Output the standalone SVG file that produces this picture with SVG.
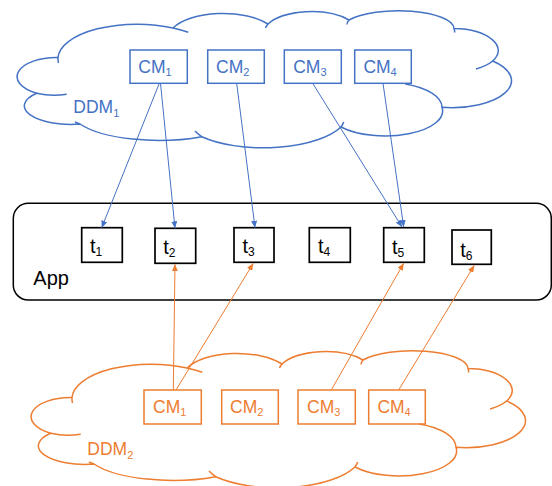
<svg xmlns="http://www.w3.org/2000/svg" width="552" height="486" viewBox="0 0 552 486">
<style>
.cb{fill:none;stroke:#4472C4;stroke-width:1.5}
.co{fill:none;stroke:#ED7D31;stroke-width:1.5}
.tb{fill:none;stroke:#4472C4;stroke-width:1.5}
.to{fill:none;stroke:#ED7D31;stroke-width:1.5}
.lb{fill:#4472C4;font-family:"Liberation Sans",Arial,sans-serif;font-size:17.5px}
.lo{fill:#ED7D31;font-family:"Liberation Sans",Arial,sans-serif;font-size:17.5px}
.tk{fill:#000;font-family:"Liberation Sans",Arial,sans-serif;font-size:20px}
.tbox{fill:#fff;stroke:#000;stroke-width:1.7}
.cnb{stroke:#4472C4;stroke-width:1;fill:none}
.cno{stroke:#ED7D31;stroke-width:1;fill:none}
</style>
<defs>
<path id="cloud" d="M58,57.5 A79,35 0 0 1 173,28 A55,25 0 0 1 268,24 A48,22 0 0 1 349,20 A56,18 0 0 1 454,28.5 A45.8,22 0 0 1 492.7,61 A59.7,27 0 0 1 442,107.3 A57.5,25 0 0 1 341,127 A84.6,35 0 0 1 201.7,136.7 A88.5,30 0 0 1 80,124 A46.5,18.5 0 0 1 36.7,93.3 A39.3,19.2 0 0 1 58,57.5 Z"/>
<path id="crease" d="M58,57.5 A79,35 0 0 0 58.5,63 M173,28 A79,35 0 0 1 188.3,32.3 M268,24 A48,22 0 0 0 265.5,28 M349,20 A56,18 0 0 0 347,24.5 M454,28.5 A56,18 0 0 1 454.5,32.5 M492.7,61 A45.8,22 0 0 1 476,69 M405.3,84 A57.5,25 0 0 1 442,107.3 M341,127 A84.6,35 0 0 0 343.7,122 M201.7,136.7 A84.6,35 0 0 1 195,131 M80,124 A88.5,30 0 0 1 75,122 M36.7,93.3 A39.3,19.2 0 0 0 66.7,94.3"/>
<marker id="ab" viewBox="0 0 7 6" refX="7" refY="3" markerWidth="7" markerHeight="6" markerUnits="userSpaceOnUse" orient="auto"><path d="M0,0 L7,3 L0,6 Z" fill="#4472C4"/></marker>
<marker id="ao" viewBox="0 0 7 6" refX="7" refY="3" markerWidth="7" markerHeight="6" markerUnits="userSpaceOnUse" orient="auto"><path d="M0,0 L7,3 L0,6 Z" fill="#ED7D31"/></marker>
</defs>
<rect width="552" height="486" fill="#fff"/>

<g id="ddm1">
<use href="#cloud" class="cb"/>
<use href="#crease" class="cb"/>
<text class="lb" x="73.3" y="113.3">DDM<tspan font-size="11" dy="4">1</tspan></text>
</g>
<g id="ddm2" transform="translate(14,340)">
<use href="#cloud" class="co"/>
<use href="#crease" class="co"/>
</g>
<text class="lo" x="87.3" y="454.5">DDM<tspan font-size="11" dy="4">2</tspan></text>

<g id="app">
<rect x="13.3" y="203.3" width="538" height="96.7" rx="15" fill="none" stroke="#000" stroke-width="1.5"/>
<text class="tk" x="33.3" y="285" font-size="17.5">App</text>
</g>

<g id="cm1_1"><rect class="tb" x="130" y="50" width="57.3" height="33.3"/><text class="lb" x="138.3" y="73.3">CM<tspan font-size="11" dy="3">1</tspan></text></g>
<g id="cm1_2"><rect class="tb" x="207.7" y="50" width="56.6" height="33.3"/><text class="lb" x="216" y="73.3">CM<tspan font-size="11" dy="3">2</tspan></text></g>
<g id="cm1_3"><rect class="tb" x="284.3" y="50" width="57" height="33.3"/><text class="lb" x="293.2" y="73.3">CM<tspan font-size="11" dy="3">3</tspan></text></g>
<g id="cm1_4"><rect class="tb" x="354.7" y="50" width="56.6" height="33.3"/><text class="lb" x="363.4" y="73.3">CM<tspan font-size="11" dy="3">4</tspan></text></g>

<g id="cm2_1"><rect class="to" x="144" y="390" width="57.3" height="34"/><text class="lo" x="153" y="413.3">CM<tspan font-size="11" dy="3">1</tspan></text></g>
<g id="cm2_2"><rect class="to" x="221.7" y="390" width="56.6" height="34"/><text class="lo" x="230" y="413.3">CM<tspan font-size="11" dy="3">2</tspan></text></g>
<g id="cm2_3"><rect class="to" x="298" y="390" width="57.3" height="34"/><text class="lo" x="307" y="413.3">CM<tspan font-size="11" dy="3">3</tspan></text></g>
<g id="cm2_4"><rect class="to" x="368.7" y="390" width="56.6" height="34"/><text class="lo" x="377.4" y="413.3">CM<tspan font-size="11" dy="3">4</tspan></text></g>

<g id="t1"><rect class="tbox" x="81.7" y="227.7" width="40.6" height="34.6"/><text class="tk" x="90" y="253.3">t<tspan font-size="12" dy="3">1</tspan></text></g>
<g id="t2"><rect class="tbox" x="155" y="228.3" width="40.7" height="35"/><text class="tk" x="163.3" y="254.3">t<tspan font-size="12" dy="3">2</tspan></text></g>
<g id="t3"><rect class="tbox" x="234" y="227.7" width="40" height="34.6"/><text class="tk" x="242.5" y="253.3">t<tspan font-size="12" dy="3">3</tspan></text></g>
<g id="t4"><rect class="tbox" x="309.3" y="227.7" width="41" height="34.6"/><text class="tk" x="318" y="253.3">t<tspan font-size="12" dy="3">4</tspan></text></g>
<g id="t5"><rect class="tbox" x="383.7" y="227.7" width="40.6" height="34.6"/><text class="tk" x="392" y="254">t<tspan font-size="12" dy="3">5</tspan></text></g>
<g id="t6"><rect class="tbox" x="452" y="230" width="39.3" height="34.3"/><text class="tk" x="460.3" y="256.5">t<tspan font-size="12" dy="3">6</tspan></text></g>

<g id="connectors">
<line class="cnb" x1="159.3" y1="83.3" x2="101.7" y2="227.7" marker-end="url(#ab)"/>
<line class="cnb" x1="160.5" y1="83.3" x2="175" y2="228.3" marker-end="url(#ab)"/>
<line class="cnb" x1="236.7" y1="83.3" x2="255" y2="227.7" marker-end="url(#ab)"/>
<line class="cnb" x1="312.7" y1="83.3" x2="402" y2="227" marker-end="url(#ab)"/>
<line class="cnb" x1="383" y1="83.3" x2="403.7" y2="227" marker-end="url(#ab)"/>
<line class="cno" x1="173.3" y1="390" x2="175" y2="264.2" marker-end="url(#ao)"/>
<line class="cno" x1="176" y1="390" x2="253.3" y2="263.3" marker-end="url(#ao)"/>
<line class="cno" x1="331.3" y1="390" x2="403.7" y2="263.3" marker-end="url(#ao)"/>
<line class="cno" x1="398.7" y1="390" x2="474.3" y2="265.3" marker-end="url(#ao)"/>
</g>
</svg>
